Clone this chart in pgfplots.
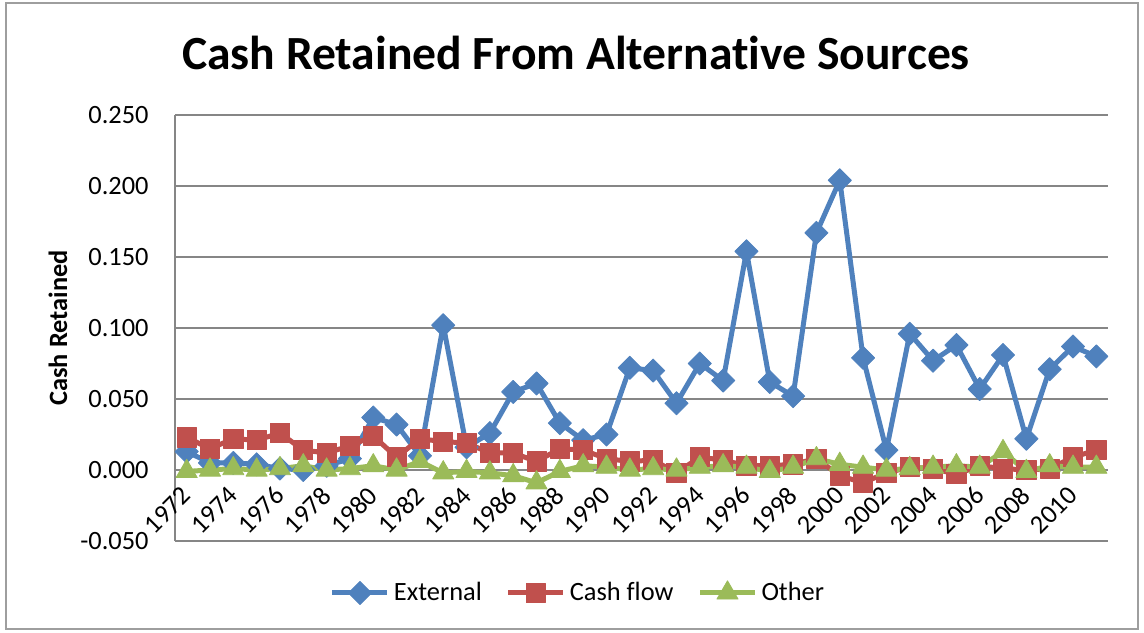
\documentclass[border=0pt]{standalone}
\usepackage{pgfplots}
\pgfplotsset{compat=1.18}
\usepackage{pgfplotstable}
\usepackage{fontspec}
\setmainfont{Carlito}[Ligatures={NoCommon}]

\definecolor{extblue}{HTML}{4F81BD}
\definecolor{cfred}{HTML}{C0504D}
\definecolor{othgreen}{HTML}{9BBB59}
\definecolor{gridgray}{HTML}{868686}

% Share of cash retained, by source and year
\pgfplotstableread{
year  ext     cf      oth
1972  0.013   0.023  -0.001
1973  0.005   0.015   0.000
1974  0.005   0.022   0.001
1975  0.004   0.021   0.000
1976  0.001   0.026   0.001
1977  0.000   0.014   0.003
1978  0.003   0.012   0.000
1979  0.008   0.017   0.001
1980  0.037   0.024   0.003
1981  0.032   0.009   0.000
1982  0.010   0.022   0.006
1983  0.102   0.020  -0.002
1984  0.016   0.019  -0.001
1985  0.026   0.012  -0.002
1986  0.055   0.012  -0.004
1987  0.061   0.006  -0.009
1988  0.033   0.015  -0.001
1989  0.021   0.014   0.003
1990  0.025   0.008   0.002
1991  0.072   0.006   0.000
1992  0.070   0.007   0.001
1993  0.047  -0.002   0.000
1994  0.075   0.009   0.002
1995  0.063   0.007   0.003
1996  0.154   0.003   0.002
1997  0.062   0.003  -0.001
1998  0.052   0.004   0.002
1999  0.167   0.008   0.008
2000  0.204  -0.004   0.004
2001  0.079  -0.009   0.002
2002  0.014  -0.002   0.000
2003  0.096   0.002   0.001
2004  0.077   0.001   0.002
2005  0.088  -0.003   0.003
2006  0.057   0.003   0.002
2007  0.081   0.001   0.013
2008  0.022   0.000  -0.001
2009  0.071   0.001   0.003
2010  0.087   0.009   0.002
2011  0.080   0.014   0.002
}\cashdata

\begin{document}
\begin{tikzpicture}
\useasboundingbox (0,0) rectangle (572pt,316pt);
\draw[gridgray!80, line width=0.75pt] (3pt,1.5pt) rectangle (569pt,314.5pt);
\node[font=\fontsize{23.8}{28}\selectfont\bfseries, anchor=base, inner sep=0pt]
  at (288pt,281pt) {Cash Retained From Alternative Sources};
\begin{axis}[
  at={(87.5pt,45.5pt)}, anchor=south west,
  scale only axis, width=466.5pt, height=213pt,
  xmin=1971.5, xmax=2011.5, ymin=-0.05, ymax=0.25,
  axis x line*=middle, axis y line*=left,
  axis line style={gridgray, line width=0.75pt},
  xtick={1972,1974,...,2010},
  ytick={-0.05,0,0.05,0.1,0.15,0.2,0.25},
  major tick length=0pt,
  ymajorgrids, grid style={gridgray, line width=0.75pt},
  tick label style={font=\fontsize{13.2}{15}\selectfont},
  xticklabel style={/pgf/number format/1000 sep={},
    /pgf/number format/assume math mode=true,
    yshift=-10.5pt, rotate=45, anchor=east, inner sep=0pt},
  yticklabel style={/pgf/number format/fixed,
    /pgf/number format/fixed zerofill,
    /pgf/number format/precision=3,
    /pgf/number format/assume math mode=true,
    anchor=east, inner sep=0pt, xshift=-13pt},
  ylabel={Cash Retained},
  every axis y label/.style={at={(axis description cs:-0.1254,0.5)},
    rotate=90, anchor=center, font=\fontsize{13.2}{15}\selectfont\bfseries},
  legend columns=3,
  legend cell align=left,
  legend style={at={(axis description cs:0.433,-0.122)}, anchor=center,
    draw=none, inner sep=0pt, font=\fontsize{13.2}{15}\selectfont,
    /tikz/every even column/.append style={column sep=10pt}},
  legend image code/.code={\draw[mark repeat=2,mark phase=2,#1]
    plot coordinates {(0pt,0pt)(13.75pt,0pt)(27.5pt,0pt)};},
  line join=round,
]
\addplot[extblue, line width=2.5pt, mark=square*, mark size=4.1pt,
  mark options={rotate=45, solid, line width=0.4pt, fill=extblue}]
  table[x=year, y=ext]{\cashdata};
\addlegendentry{External}
\addplot[cfred, line width=2.5pt, mark=square*, mark size=4.8pt,
  mark options={solid, line width=0.4pt, fill=cfred}]
  table[x=year, y=cf]{\cashdata};
\addlegendentry{Cash flow}
\addplot[othgreen, line width=2.5pt, mark=triangle*, mark size=6.1pt,
  mark options={solid, line width=0.4pt, fill=othgreen}]
  table[x=year, y=oth]{\cashdata};
\addlegendentry{Other}
\end{axis}
\end{tikzpicture}
\end{document}
